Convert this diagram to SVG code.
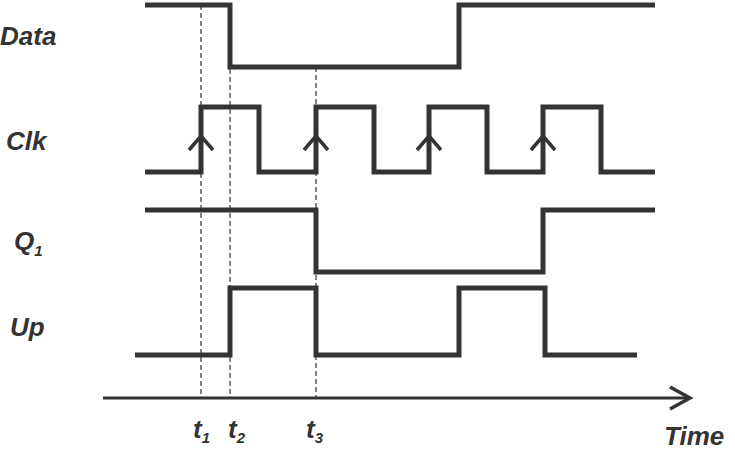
<svg xmlns="http://www.w3.org/2000/svg" width="735" height="450" viewBox="0 0 735 450">
<style>
.w{fill:none;stroke:#333;stroke-width:5;stroke-linejoin:miter}
.d{fill:none;stroke:#333;stroke-width:1.2;stroke-dasharray:5,3}
.a{fill:none;stroke:#333;stroke-width:3.5}
.l{font-family:"Liberation Sans",Arial,sans-serif;font-weight:bold;font-style:italic;font-size:26px;fill:#333}
</style>
<rect width="735" height="450" fill="#fff"/>
<g id="guides">
<line class="d" x1="201" y1="5" x2="201" y2="398"/>
<line class="d" x1="230" y1="5" x2="230" y2="398"/>
<line class="d" x1="316" y1="67" x2="316" y2="398"/>
</g>
<g id="data"><polyline class="w" points="145,5 230,5 230,67 459,67 459,5 655,5"/></g>
<g id="clk">
<polyline class="w" points="145,172 201,172 201,107 259,107 259,172 316,172 316,107 374,107 374,172 429,172 429,107 487,107 487,172 543,172 543,107 601,107 601,172 655,172"/>
<polyline class="a" points="189,150 201,136 213,150"/>
<polyline class="a" points="304,150 316,136 328,150"/>
<polyline class="a" points="417,150 429,136 441,150"/>
<polyline class="a" points="531,150 543,136 555,150"/>
</g>
<g id="q1"><polyline class="w" points="145,210 316,210 316,272 543,272 543,210 655,210"/></g>
<g id="up"><polyline class="w" points="135,355 230,355 230,288 316,288 316,355 459,355 459,288 545,288 545,355 637,355"/></g>
<g id="axis">
<line x1="103" y1="398" x2="688" y2="398" stroke="#333" stroke-width="3"/>
<polyline class="a" points="670,387 690,398 670,409" stroke-width="3"/>
</g>
<g id="labels">
<text class="l" x="0" y="45">Data</text>
<text class="l" x="6" y="150">Clk</text>
<text class="l" x="14" y="250">Q<tspan font-size="15" dy="6">1</tspan></text>
<text class="l" x="10" y="336">Up</text>
<text class="l" x="193" y="438">t<tspan font-size="15" dy="5">1</tspan></text>
<text class="l" x="228" y="438">t<tspan font-size="15" dy="5">2</tspan></text>
<text class="l" x="306" y="438">t<tspan font-size="15" dy="5">3</tspan></text>
<text class="l" x="664" y="445" font-size="24">Time</text>
</g>
</svg>
